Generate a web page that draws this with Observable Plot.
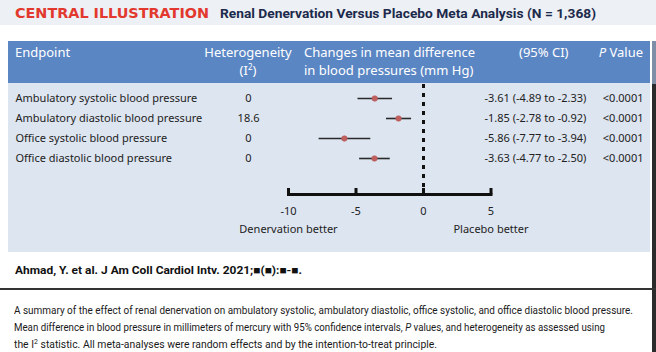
<!DOCTYPE html>
<html><head><meta charset="utf-8">
<script src="https://cdn.jsdelivr.net/npm/d3@7"></script>
<script src="https://cdn.jsdelivr.net/npm/@observablehq/plot@0.6"></script>
<style>
body{margin:0;background:#fff;}
#root{position:relative;width:656px;height:352px;overflow:hidden;font-family:"Noto Sans",sans-serif;background:#fff;}
.abs{position:absolute;white-space:nowrap;}
.hdr{color:#fff;font-size:13px;line-height:18px;}
.narrow{font-family:"Roboto",sans-serif;}
.fit{transform-origin:0 50%;}
</style></head><body>
<div id="root">
  <div class="abs" style="left:0;top:0;width:656px;height:25px;background:#edf0f4;"></div>
  <div class="abs fit" data-w="194" style="left:15px;top:4px;font-family:'DejaVu Sans',sans-serif;font-weight:bold;font-size:13.5px;color:#e2382d;line-height:18px;">CENTRAL ILLUSTRATION</div>
  <div class="abs narrow fit" data-w="376" style="left:220px;top:4px;font-weight:bold;font-size:13.5px;color:#1c2a4c;line-height:18px;">Renal Denervation Versus Placebo Meta Analysis (N = 1,368)</div>

  <div class="abs" style="left:8px;top:41px;width:642px;height:211px;background:#dde5f0;"></div>
  <div class="abs" style="left:8px;top:41px;width:642px;height:42px;background:#5b86c4;"></div>
  <div class="abs" style="left:652px;top:84px;width:4px;height:268px;background:#2b2b2b;"></div>
  <div class="abs" style="left:652px;top:41px;width:4px;height:43px;background:#7d8ea6;"></div>

  <div class="abs hdr" style="left:15px;top:43px;">Endpoint</div>
  <div class="abs hdr" style="left:203px;top:43px;width:90px;text-align:center;">Heterogeneity<br>(I<sup style="font-size:8px;line-height:0;">2</sup>)</div>
  <div class="abs hdr" style="left:304px;top:43px;">Changes in mean difference<br>in blood pressures (mm Hg)</div>
  <div class="abs hdr" style="left:519px;top:43px;">(95% CI)</div>
  <div class="abs hdr" style="left:592px;top:43px;width:51px;text-align:right;"><i>P</i> Value</div>

  <div id="chart" class="abs" style="left:0;top:41px;"></div>

  <div class="abs narrow fit" data-w="287" style="left:15px;top:263px;font-weight:bold;font-size:11px;color:#111;line-height:16px;">Ahmad, Y. et al. J Am Coll Cardiol Intv. 2021;■(■):■-■.</div>
  <div class="abs" style="left:0;top:288px;width:656px;height:1.5px;background:#333;"></div>
  <div class="abs narrow fit" data-w="619" style="left:14px;top:302px;font-size:10.5px;color:#1a1a1a;line-height:17px;">A summary of the effect of renal denervation on ambulatory systolic, ambulatory diastolic, office systolic, and office diastolic blood pressure.</div>
  <div class="abs narrow fit" data-w="591" style="left:14px;top:319px;font-size:10.5px;color:#1a1a1a;line-height:17px;">Mean difference in blood pressure in millimeters of mercury with 95% confidence intervals, <i>P</i> values, and heterogeneity as assessed using</div>
  <div class="abs narrow fit" data-w="423" style="left:14px;top:336px;font-size:10.5px;color:#1a1a1a;line-height:17px;">the I<sup style="font-size:7px;line-height:0;">2</sup> statistic. All meta-analyses were random effects and by the intention-to-treat principle.</div>
</div>
<script>
const endpoints = [
  "Ambulatory systolic blood pressure",
  "Ambulatory diastolic blood pressure",
  "Office systolic blood pressure",
  "Office diastolic blood pressure"
];
const heterogeneity = ["0", "18.6", "0", "0"];
const meanDiff = [-3.61, -1.85, -5.86, -3.63];
const ciLow = [-4.89, -2.78, -7.77, -4.77];
const ciHigh = [-2.33, -0.92, -3.94, -2.50];
const pValues = ["<0.0001", "<0.0001", "<0.0001", "<0.0001"];
const xTicks = [-10, -5, 0, 5];
const directionLabels = ["Denervation better", "Placebo better"];
const directionAt = [-10, 5];

const rows = endpoints.map((e, i) => ({
  endpoint: e,
  het: heterogeneity[i],
  mean: meanDiff[i],
  lo: ciLow[i],
  hi: ciHigh[i],
  ci: `${meanDiff[i].toFixed(2)} (${ciLow[i].toFixed(2)} to ${ciHigh[i].toFixed(2)})`,
  p: pValues[i]
}));
const directions = directionLabels.map((l, i) => ({label: l, at: directionAt[i]}));

const chart = Plot.plot({
  width: 656,
  height: 211,
  marginLeft: 288,
  marginRight: 165.5,
  marginTop: 43,
  marginBottom: 58,
  x: {domain: [-10, 5]},
  y: {type: "point", domain: endpoints, range: [56, 117.5], padding: 0, axis: null},
  style: {background: "transparent", fontFamily: "Noto Sans, sans-serif", fontSize: "11px", color: "#222", overflow: "visible"},
  marks: [
    Plot.ruleX([0], {stroke: "#111", strokeWidth: 3, strokeDasharray: "4,5", insetBottom: 5}),
    Plot.tickX(xTicks, {x: d => d, stroke: "#111", strokeWidth: 3, insetTop: 104}),
    Plot.frame({anchor: "bottom", stroke: "#111", strokeWidth: 3}),
    Plot.axisX({ticks: xTicks, tickSize: 0, tickPadding: 13, fontSize: 11, fill: "#222", tickFormat: d => String(d)}),
    Plot.text(directions, {x: "at", text: "label", frameAnchor: "bottom", dy: 38, fontSize: 11, fill: "#222"}),
    Plot.link(rows, {x1: "lo", x2: "hi", y1: "endpoint", y2: "endpoint", stroke: "#2a2a2a", strokeWidth: 1.6}),
    Plot.dot(rows, {x: "mean", y: "endpoint", r: 2.8, fill: "#c0605f", stroke: "#b05050", strokeWidth: 0.5}),
    Plot.text(rows, {y: "endpoint", text: "endpoint", frameAnchor: "left", dx: -273, textAnchor: "start", fill: "#222"}),
    Plot.text(rows, {y: "endpoint", text: "het", frameAnchor: "left", dx: -40, textAnchor: "middle", fill: "#222"}),
    Plot.text(rows, {y: "endpoint", text: "ci", frameAnchor: "right", dx: -6.5, textAnchor: "start", fill: "#222"}),
    Plot.text(rows, {y: "endpoint", text: "p", frameAnchor: "right", dx: 152.5, textAnchor: "end", fill: "#222", letterSpacing: "0.8px"})
  ]
});
document.getElementById("chart").appendChild(chart);

document.querySelectorAll(".fit").forEach(el => {
  const target = +el.dataset.w;
  const w = el.getBoundingClientRect().width;
  if (w > 0) el.style.transform = `scaleX(${target / w})`;
});
</script>
</body></html>
